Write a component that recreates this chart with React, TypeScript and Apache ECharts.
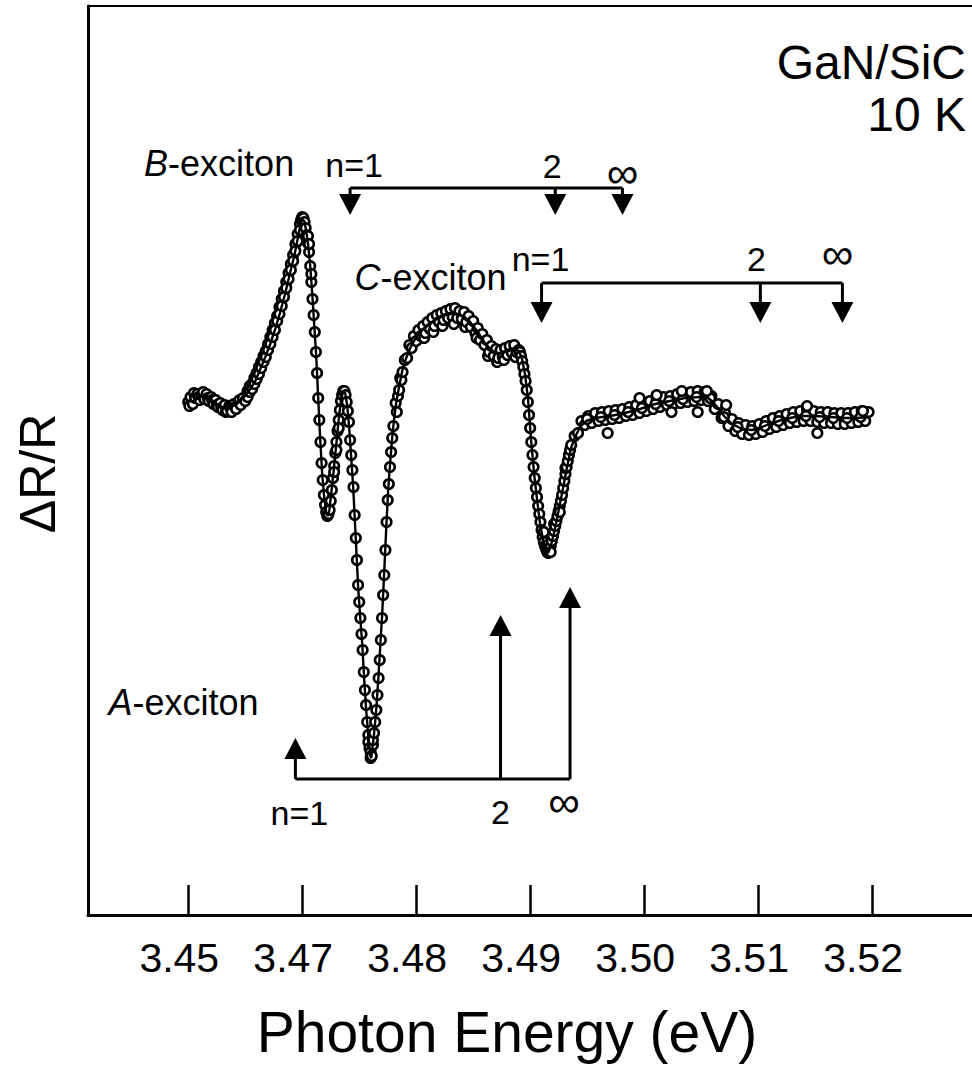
import React, { useEffect, useRef } from "react";
import * as echarts from "echarts";

// ---------- data ----------
const xTickValues = [3.46, 3.47, 3.48, 3.49, 3.5, 3.51, 3.52];
const xTickLabels = ["3.45", "3.47", "3.48", "3.49", "3.50", "3.51", "3.52"];

// fitted line shape (photon energy in eV, ΔR/R in arbitrary units)
const fitEnergy = [
  3.46018, 3.46062, 3.46105, 3.46149, 3.46193, 3.46237, 3.46281, 3.46325, 3.46369, 3.46412,
  3.46456, 3.465, 3.46544, 3.46588, 3.46632, 3.46676, 3.46719, 3.46763, 3.46807, 3.46851,
  3.46895, 3.4693, 3.46956, 3.46982, 3.47, 3.47018, 3.47035, 3.47053, 3.4707, 3.47088,
  3.47105, 3.47123, 3.4714, 3.47158, 3.47175, 3.47193, 3.4721, 3.47224, 3.47237, 3.47254,
  3.47272, 3.47298, 3.47324, 3.47342, 3.4736, 3.47377, 3.47395, 3.47412, 3.4743, 3.47447,
  3.47465, 3.47491, 3.47509, 3.47526, 3.47544, 3.47561, 3.47579, 3.47596, 3.47605, 3.47614,
  3.47631, 3.47649, 3.47667, 3.47684, 3.47702, 3.47719, 3.47737, 3.47754, 3.47772, 3.47789,
  3.47807, 3.47824, 3.47851, 3.47877, 3.47912, 3.47947, 3.47991, 3.48035, 3.48096, 3.48166,
  3.48254, 3.48342, 3.48412, 3.48473, 3.48535, 3.48596, 3.48649, 3.48701, 3.48754, 3.48807,
  3.48859, 3.48903, 3.48929, 3.48956, 3.48982, 3.49008, 3.49035, 3.49061, 3.49087, 3.49114,
  3.4914, 3.49157, 3.49184, 3.49219, 3.49254, 3.49289, 3.49324, 3.49359, 3.49394, 3.49438,
  3.49491, 3.4957, 3.49701, 3.49833, 3.49964, 3.50096, 3.50227, 3.50359, 3.50491, 3.50561,
  3.50605, 3.50649, 3.50702, 3.50772, 3.5086, 3.50947, 3.51035, 3.51123, 3.51237, 3.51368,
  3.515, 3.51631, 3.51763, 3.51877, 3.51965,
];
const fitSignal = [
  0.08, 0.1, 0.13, 0.14, 0.11, 0.07, 0.04, 0.02, 0.03, 0.05,
  0.09, 0.14, 0.21, 0.29, 0.41, 0.53, 0.66, 0.81, 0.98, 1.17,
  1.38, 1.54, 1.69, 1.84, 1.91, 1.89, 1.79, 1.64, 1.44, 1.16,
  0.85, 0.53, 0.12, -0.3, -0.64, -0.88, -1.02, -1.06, -1.01, -0.84,
  -0.65, -0.35, -0.05, 0.11, 0.19, 0.17, 0.04, -0.18, -0.48, -0.77,
  -1.18, -1.78, -2.08, -2.33, -2.7, -3.0, -3.25, -3.45, -3.48, -3.4,
  -3.23, -3.0, -2.7, -2.37, -2.03, -1.63, -1.18, -0.8, -0.52, -0.28,
  -0.08, 0.07, 0.24, 0.39, 0.52, 0.62, 0.71, 0.78, 0.84, 0.9,
  0.95, 0.97, 0.94, 0.88, 0.79, 0.68, 0.61, 0.57, 0.57, 0.59,
  0.61, 0.59, 0.51, 0.35, 0.1, -0.3, -0.64, -0.9, -1.14, -1.31,
  -1.4, -1.43, -1.35, -1.18, -0.98, -0.78, -0.57, -0.38, -0.27, -0.17,
  -0.11, -0.08, -0.06, -0.03, 0.01, 0.06, 0.09, 0.12, 0.13, 0.12,
  0.08, 0.02, -0.06, -0.14, -0.19, -0.2, -0.17, -0.13, -0.09, -0.06,
  -0.06, -0.07, -0.08, -0.08, -0.07,
];

// measured points [photon energy (eV), ΔR/R (arb. units)]
const measuredPoints: [number, number][] = [
  [3.46, 0.08], [3.4601, 0.04], [3.4602, 0.13], [3.4604, 0.06], [3.4605, 0.17], [3.4606, 0.12],
  [3.4608, 0.16], [3.4609, 0.13], [3.461, 0.1], [3.4612, 0.15], [3.4613, 0.18], [3.4614, 0.11],
  [3.4616, 0.16], [3.4617, 0.12], [3.4618, 0.09], [3.462, 0.13], [3.4621, 0.1], [3.4622, 0.06],
  [3.4624, 0.1], [3.4625, 0.05], [3.4626, 0.03], [3.4628, 0.07], [3.4629, 0.02], [3.463, 0.0],
  [3.4632, 0.05], [3.4633, -0.02], [3.4634, -0.01], [3.4636, 0.04], [3.4637, 0.02], [3.4638, -0.02],
  [3.464, 0.06], [3.4641, 0.03], [3.4642, 0.01], [3.4644, 0.08], [3.4645, 0.1], [3.4646, 0.05],
  [3.4648, 0.12], [3.465, 0.09],
  [3.4652, 0.19], [3.4652, 0.13], [3.4654, 0.24], [3.4654, 0.18], [3.4656, 0.26], [3.4656, 0.21],
  [3.4658, 0.32], [3.4658, 0.26], [3.466, 0.37], [3.466, 0.31], [3.4662, 0.43], [3.4662, 0.36],
  [3.4664, 0.48], [3.4664, 0.42], [3.4666, 0.54], [3.4666, 0.48], [3.4668, 0.59], [3.4668, 0.53],
  [3.467, 0.66], [3.467, 0.6], [3.4672, 0.73], [3.4672, 0.66], [3.4674, 0.8], [3.4674, 0.73],
  [3.4676, 0.87], [3.4676, 0.8], [3.4678, 0.94], [3.4678, 0.89], [3.468, 1.03], [3.468, 0.96],
  [3.4682, 1.11], [3.4682, 1.04], [3.4684, 1.19], [3.4684, 1.13], [3.4686, 1.28], [3.4686, 1.22],
  [3.4688, 1.37], [3.4688, 1.31], [3.469, 1.46], [3.469, 1.4], [3.4692, 1.55], [3.4692, 1.49],
  [3.4694, 1.66], [3.4694, 1.59], [3.4696, 1.76], [3.4696, 1.69], [3.4698, 1.86], [3.4698, 1.8],
  [3.4699, 1.9], [3.47, 1.93], [3.47, 1.91], [3.4701, 1.92],
  [3.4702, 1.88], [3.4703, 1.82], [3.4704, 1.75], [3.4705, 1.67], [3.4705, 1.74], [3.4706, 1.58],
  [3.4706, 1.66], [3.4707, 1.44], [3.4708, 1.28], [3.4708, 1.36], [3.4709, 1.11], [3.471, 0.95],
  [3.4711, 0.78], [3.4712, 0.58], [3.4713, 0.37], [3.4714, 0.12], [3.4715, -0.1], [3.4716, -0.32],
  [3.4717, -0.53], [3.4718, -0.7], [3.4719, -0.85], [3.472, -0.95], [3.4721, -1.02], [3.4722, -1.06],
  [3.4723, -1.04],
  [3.4724, -1.0], [3.4725, -0.91], [3.4726, -0.8], [3.4727, -0.68], [3.4728, -0.56], [3.4728, -0.62],
  [3.4729, -0.43], [3.473, -0.32], [3.473, -0.4], [3.4731, -0.21], [3.4732, -0.1], [3.4732, -0.18],
  [3.4733, 0.0], [3.4734, 0.09], [3.4735, 0.15], [3.4736, 0.19], [3.4737, 0.19], [3.4738, 0.15],
  [3.4739, 0.08], [3.474, -0.01], [3.4741, -0.12],
  [3.4742, -0.3], [3.4743, -0.45], [3.4744, -0.6], [3.4745, -0.77], [3.4746, -1.05], [3.4747, -1.28],
  [3.4748, -1.5], [3.4749, -1.75], [3.475, -1.92], [3.4751, -2.08], [3.4752, -2.24], [3.4753, -2.4],
  [3.4754, -2.62], [3.4755, -2.8], [3.4756, -2.95], [3.4757, -3.12], [3.4758, -3.25], [3.4758, -3.32],
  [3.4759, -3.38], [3.476, -3.48], [3.476, -3.42], [3.4761, -3.46], [3.4762, -3.35], [3.4762, -3.3],
  [3.4763, -3.23], [3.4764, -3.12], [3.4765, -3.0], [3.4766, -2.85], [3.4767, -2.68], [3.4768, -2.5],
  [3.4769, -2.3], [3.477, -2.08], [3.4771, -1.85], [3.4772, -1.65], [3.4773, -1.4], [3.4774, -1.12],
  [3.4775, -0.9], [3.4776, -0.74], [3.4777, -0.57], [3.4778, -0.42], [3.4779, -0.28], [3.478, -0.16],
  [3.4782, 0.07], [3.4783, -0.02], [3.4784, 0.14], [3.4785, 0.2], [3.4786, 0.32], [3.4787, 0.3],
  [3.4788, 0.38], [3.479, 0.5], [3.4792, 0.52], [3.4794, 0.65], [3.4796, 0.62], [3.4798, 0.74],
  [3.48, 0.69], [3.4802, 0.8], [3.4804, 0.74], [3.4806, 0.84], [3.4807, 0.72], [3.4808, 0.77],
  [3.481, 0.88], [3.4812, 0.81], [3.4814, 0.92], [3.4815, 0.78], [3.4816, 0.84], [3.4818, 0.95],
  [3.482, 0.88], [3.4822, 0.97], [3.4823, 0.84], [3.4824, 0.9], [3.4826, 0.99], [3.4828, 0.92],
  [3.483, 1.01], [3.4832, 0.93], [3.4833, 0.86], [3.4834, 1.02], [3.4836, 0.92], [3.4838, 0.99],
  [3.484, 0.91], [3.4842, 0.98], [3.4843, 0.83], [3.4844, 0.88], [3.4846, 0.94], [3.4848, 0.83],
  [3.485, 0.89], [3.4852, 0.77], [3.4853, 0.72], [3.4854, 0.82], [3.4856, 0.7], [3.4858, 0.76],
  [3.486, 0.65], [3.4862, 0.7], [3.4863, 0.54], [3.4864, 0.58], [3.4866, 0.64], [3.4868, 0.54],
  [3.487, 0.61], [3.4871, 0.48], [3.4872, 0.52], [3.4874, 0.6], [3.4876, 0.53], [3.4877, 0.5],
  [3.4878, 0.62], [3.488, 0.55], [3.4882, 0.64], [3.4884, 0.57], [3.4886, 0.65], [3.4887, 0.53],
  [3.4888, 0.58], [3.489, 0.6],
  [3.4891, 0.58], [3.4892, 0.54], [3.4893, 0.49], [3.4894, 0.43], [3.4895, 0.36], [3.4896, 0.29],
  [3.4897, 0.2], [3.4898, 0.08], [3.4899, -0.05], [3.49, -0.18], [3.4901, -0.32], [3.4902, -0.45],
  [3.4903, -0.57], [3.4904, -0.68], [3.4905, -0.78], [3.4906, -0.87], [3.4907, -0.96], [3.4908, -1.04],
  [3.4909, -1.12], [3.491, -1.2], [3.4911, -1.27], [3.4912, -1.32], [3.4912, -1.22], [3.4913, -1.36],
  [3.4914, -1.39], [3.4915, -1.42], [3.4915, -1.35], [3.4916, -1.43], [3.4917, -1.4], [3.4918, -1.36],
  [3.4918, -1.42], [3.4919, -1.31], [3.492, -1.26], [3.4921, -1.21], [3.4921, -1.14], [3.4922, -1.16],
  [3.4923, -1.11], [3.4924, -1.06], [3.4925, -1.01], [3.4926, -0.96], [3.4926, -1.02], [3.4927, -0.91],
  [3.4928, -0.85], [3.4929, -0.78], [3.493, -0.71], [3.4931, -0.64], [3.4931, -0.58], [3.4932, -0.57],
  [3.4933, -0.51], [3.4934, -0.45], [3.4935, -0.4],
  [3.4936, -0.35], [3.4939, -0.26], [3.4942, -0.23], [3.4945, -0.11], [3.4948, -0.15], [3.4951, -0.06],
  [3.4954, -0.13], [3.4957, -0.03], [3.496, -0.11], [3.4963, -0.02], [3.4966, -0.1], [3.4969, -0.01],
  [3.4972, -0.09], [3.4975, 0.0], [3.4978, -0.08], [3.4981, 0.01], [3.4984, -0.06], [3.4987, 0.03],
  [3.499, -0.05], [3.4993, 0.05], [3.4996, -0.03], [3.4999, 0.07], [3.5002, -0.01], [3.5005, 0.09],
  [3.5008, 0.01], [3.5011, 0.11], [3.5014, 0.03], [3.5017, 0.13], [3.502, 0.05], [3.5023, 0.14],
  [3.5026, 0.06], [3.5029, 0.16], [3.5032, 0.07], [3.5035, 0.17], [3.5038, 0.08], [3.5041, 0.18],
  [3.5044, 0.09], [3.5047, 0.19], [3.505, 0.1], [3.5053, 0.18], [3.5056, 0.09], [3.5059, 0.14],
  [3.5062, 0.01], [3.5065, 0.06], [3.5068, -0.08], [3.5071, -0.03], [3.5074, -0.16], [3.5077, -0.09],
  [3.508, -0.21], [3.5083, -0.13], [3.5086, -0.24], [3.5089, -0.15], [3.5092, -0.25], [3.5095, -0.16],
  [3.5098, -0.24], [3.5101, -0.14], [3.5104, -0.22], [3.5107, -0.11], [3.511, -0.19], [3.5113, -0.08],
  [3.5116, -0.17], [3.5119, -0.06], [3.5122, -0.15], [3.5125, -0.04], [3.5128, -0.13], [3.5131, -0.02],
  [3.5134, -0.12], [3.5137, -0.01], [3.514, -0.11], [3.5143, 0.0], [3.5146, -0.11], [3.5149, -0.01],
  [3.5152, -0.12], [3.5155, -0.02], [3.5158, -0.13], [3.5161, -0.02], [3.5164, -0.13], [3.5167, -0.03],
  [3.517, -0.14], [3.5173, -0.03], [3.5176, -0.14], [3.5179, -0.03], [3.5182, -0.13], [3.5185, -0.02],
  [3.5188, -0.12], [3.5191, -0.01], [3.5194, -0.11], [3.5197, -0.02],
  [3.495, -0.09], [3.4962, -0.07], [3.4974, -0.05], [3.4986, -0.02], [3.4998, 0.02], [3.501, 0.06],
  [3.5022, 0.09], [3.5034, 0.11], [3.5046, 0.13], [3.5058, 0.12], [3.507, -0.07], [3.5082, -0.17],
  [3.5094, -0.2], [3.5106, -0.16], [3.5118, -0.11], [3.513, -0.08], [3.5142, -0.06], [3.5154, -0.07],
  [3.5166, -0.08], [3.5178, -0.08], [3.519, -0.07],
  [3.4968, -0.23], [3.4996, 0.12], [3.5011, 0.15], [3.5033, 0.19], [3.5055, 0.19], [3.5047, -0.02],
  [3.5072, 0.05], [3.5143, 0.04], [3.5152, -0.23], [3.5192, -0.01], [3.5024, -0.02],
];

// exciton series (A, B, C): level energies in eV and bracket / arrow-tip heights in ΔR/R units
const excitonNames = ["A", "B", "C"];
const levelN1 = [3.4694, 3.4742, 3.491];
const levelN2 = [3.4874, 3.4922, 3.5102];
const levelInf = [3.4935, 3.4981, 3.5174];
const bracketHeight = [-3.69, 2.22, 1.27];
const arrowTipHeight = [
  [-3.28, -2.05, -1.77],
  [1.95, 1.95, 1.95],
  [0.87, 0.87, 0.87],
];
const levelTexts = ["n=1", "2", "\u221E"];

// ---------- layout (pixel offsets) ----------
const FONT = "'Liberation Sans', Arial, Helvetica, sans-serif";
const LEVEL_LABEL_OFFSET = [
  [[4, 34], [0, 33], [-6, 22]],
  [[4, -23], [-3, -22], [0, -16]],
  [[-1, -24], [-4, -24], [-5, -30]],
];
const NAME_OFFSET = [[-187, -77], [-206, -25], [-187, -6]];

export default function App() {
  const ref = useRef<HTMLDivElement>(null);

  useEffect(() => {
    if (!ref.current) return;
    const chart = echarts.init(ref.current, undefined, { renderer: "svg" });

    const option: any = {
      animation: false,
      backgroundColor: "#ffffff",
      textStyle: { fontFamily: FONT, color: "#000" },
      grid: {
        left: 88,
        top: 6,
        width: 898,
        bottom: 150,
        show: true,
        borderColor: "#000",
        borderWidth: 2,
        backgroundColor: "transparent",
      },
      xAxis: {
        type: "value",
        min: 3.4512,
        max: 3.53,
        name: "Photon Energy (eV)",
        nameLocation: "middle",
        nameGap: 88,
        nameTextStyle: { fontSize: 57, color: "#000", fontFamily: FONT, padding: [0, 60, 0, 0] },
        axisLine: { show: true, onZero: false, lineStyle: { color: "#000", width: 3 } },
        axisTick: {
          show: true,
          inside: true,
          length: 30,
          customValues: xTickValues,
          lineStyle: { color: "#000", width: 2.5 },
        },
        axisLabel: {
          show: true,
          customValues: xTickValues,
          margin: 22,
          fontSize: 41,
          color: "#000",
          fontFamily: FONT,
          padding: [0, 18, 0, 0],
          formatter: (v: number) => {
            const i = xTickValues.findIndex((t) => Math.abs(t - v) < 1e-7);
            return i >= 0 ? xTickLabels[i] : "";
          },
        },
        splitLine: { show: false },
      },
      yAxis: {
        type: "value",
        min: -5.05,
        max: 4.04,
        name: "\u0394R/R",
        nameLocation: "middle",
        nameGap: 25,
        nameTextStyle: { fontSize: 50, color: "#000", fontFamily: FONT, padding: [0, 26, 0, 0] },
        axisLine: { show: true, onZero: false, lineStyle: { color: "#000", width: 3 } },
        axisTick: { show: false },
        axisLabel: { show: false },
        splitLine: { show: false },
      },
      graphic: [
        {
          type: "text",
          right: 34,
          top: 38,
          style: { text: "GaN/SiC", fontSize: 48, fontFamily: FONT, fill: "#000", align: "right" },
        },
        {
          type: "text",
          right: 34,
          top: 90,
          style: { text: "10 K", fontSize: 48, fontFamily: FONT, fill: "#000", align: "right" },
        },
      ],
      series: [
        {
          name: "measured",
          type: "scatter",
          data: measuredPoints,
          symbol: "circle",
          symbolSize: 9.5,
          itemStyle: { color: "#ffffff", borderColor: "#000", borderWidth: 2.6, opacity: 1 },
          z: 2,
          silent: true,
        },
        {
          name: "fit",
          type: "line",
          data: fitEnergy.map((e, i) => [e, fitSignal[i]]),
          showSymbol: false,
          lineStyle: { color: "#000", width: 2.4 },
          z: 3,
          silent: true,
        },
        {
          name: "exciton levels",
          type: "custom",
          clip: false,
          silent: true,
          z: 4,
          data: excitonNames.map((_, i) => [levelN1[i], bracketHeight[i]]),
          encode: { x: 0, y: 1 },
          renderItem: (params: any, api: any) => {
            const i = params.dataIndex;
            const levels = [levelN1[i], levelN2[i], levelInf[i]];
            const barY = bracketHeight[i];
            const p0 = api.coord([levels[0], barY]);
            const p2 = api.coord([levels[2], barY]);
            const children: any[] = [
              {
                type: "line",
                shape: { x1: p0[0], y1: p0[1], x2: p2[0], y2: p2[1] },
                style: { stroke: "#000", lineWidth: 3 },
              },
            ];
            levels.forEach((E, j) => {
              const b = api.coord([E, barY]);
              const t = api.coord([E, arrowTipHeight[i][j]]);
              const dir = t[1] > b[1] ? 1 : -1;
              const headLen = 21;
              const halfW = 11;
              const baseY = t[1] - dir * headLen;
              children.push({
                type: "line",
                shape: { x1: b[0], y1: b[1], x2: b[0], y2: baseY },
                style: { stroke: "#000", lineWidth: 3 },
              });
              children.push({
                type: "polygon",
                shape: { points: [[t[0], t[1]], [t[0] - halfW, baseY], [t[0] + halfW, baseY]] },
                style: { fill: "#000" },
              });
              const off = LEVEL_LABEL_OFFSET[i][j];
              const isInf = j === 2;
              children.push({
                type: "text",
                x: b[0] + off[0],
                y: b[1] + off[1],
                style: {
                  text: levelTexts[j],
                  fontSize: isInf ? 44 : 34,
                  fontFamily: FONT,
                  fill: "#000",
                  align: "center",
                  verticalAlign: "middle",
                },
              });
            });
            const no = NAME_OFFSET[i];
            children.push({
              type: "text",
              x: p0[0] + no[0],
              y: p0[1] + no[1],
              style: {
                text: "{it|" + excitonNames[i] + "}-exciton",
                fontSize: 36,
                fontFamily: FONT,
                fill: "#000",
                align: "left",
                verticalAlign: "middle",
                rich: { it: { fontStyle: "italic", fontSize: 36, fontFamily: FONT, fill: "#000" } },
              },
            });
            return { type: "group", children };
          },
        },
      ],
    };

    chart.setOption(option);
    return () => {
      chart.dispose();
    };
  }, []);

  return (
    <div
      ref={ref}
      style={{ position: "fixed", left: 0, top: 0, width: 1000, height: 1065, background: "#fff" }}
    />
  );
}
